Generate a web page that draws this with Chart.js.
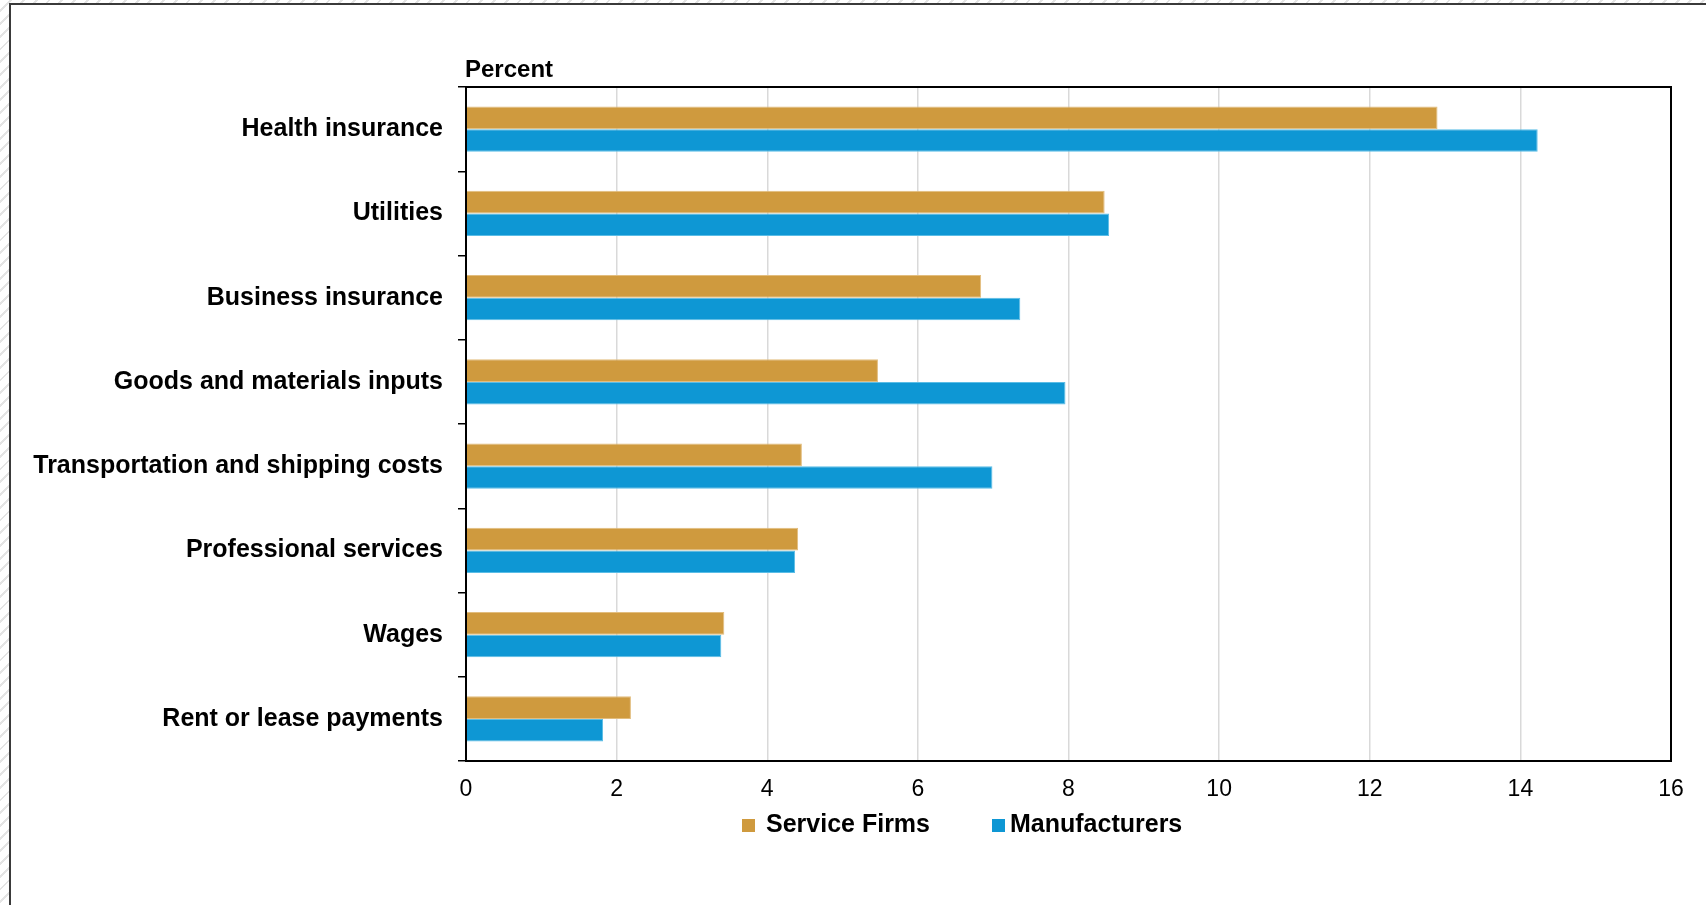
<!DOCTYPE html>
<html>
<head>
<meta charset="utf-8">
<script src="https://cdn.jsdelivr.net/npm/chart.js@4"></script>
<style>
    html, body {
        margin: 0;
        width: 1706px;
        height: 905px;
        overflow: hidden;
        font-family: "Liberation Sans", Arial, sans-serif;
        background: repeating-linear-gradient(135deg, #ffffff 0px, #ffffff 7px, #e4e4e4 7px, #e4e4e4 9px);
    }

    #frame {
        position: absolute;
        left: 9px;
        top: 3px;
        width: 1800px;
        height: 1000px;
        background: #fff;
        border-left: 2px solid #3a3a3a;
        border-top: 2px solid #3a3a3a;
    }

    #chartBox {
        position: absolute;
        left: 0;
        top: 0;
        width: 1706px;
        height: 905px;
    }

    .legendBox {
        position: absolute;
        width: 13px;
        height: 13px;
        top: 819px;
    }

    .legendText {
        position: absolute;
        top: 811px;
        font-size: 25px;
        line-height: 1;
        font-weight: bold;
        color: #000;
        white-space: nowrap;
    }
</style>
</head>
<body>
<div id="frame"></div>
<div id="chartBox"><canvas id="costChart" width="1706" height="905"></canvas></div>
<div id="legend"></div>

<script>
let categories = ['Health insurance', 'Utilities', 'Business insurance', 'Goods and materials inputs',
    'Transportation and shipping costs', 'Professional services', 'Wages', 'Rent or lease payments'];
let serviceFirms = [12.90, 8.48, 6.84, 5.47, 4.46, 4.41, 3.43, 2.19];
let manufacturers = [14.23, 8.54, 7.36, 7.96, 6.99, 4.37, 3.39, 1.82];
let seriesNames = ['Service Firms', 'Manufacturers'];
let seriesColors = ['#CF9A3E', '#0E97D4'];
let edgeColors = ['#E2BD7E', '#5BBDE6'];
let xTicks = [0, 2, 4, 6, 8, 10, 12, 14, 16];
let axisTitle = 'Percent';

// legend item positions (box left, text left)
let legendPos = [[742, 766], [992, 1010]];


let frameBorder = {
    id: 'frameBorder',
    afterDatasetsDraw(chart) {
        let a = chart.chartArea;
        let ctx = chart.ctx;
        ctx.save();
        ctx.strokeStyle = '#000';
        ctx.lineWidth = 2;
        ctx.strokeRect(a.left, a.top, a.right - a.left, a.bottom - a.top);
        ctx.fillStyle = '#000';
        ctx.font = 'bold 24px "Liberation Sans", Arial, sans-serif';
        ctx.textAlign = 'left';
        ctx.textBaseline = 'alphabetic';
        ctx.fillText(axisTitle, a.left - 1, a.top - 10);
        ctx.restore();
    }
};


function creatChart() {
    new Chart('costChart', {
        type: 'bar',
        data: {
            labels: categories,
            datasets: [{
                label: seriesNames[0],
                data: serviceFirms,
                backgroundColor: seriesColors[0],
                borderColor: edgeColors[0],
                borderWidth: 1,
                barPercentage: 1,
                categoryPercentage: 0.535
            }, {
                label: seriesNames[1],
                data: manufacturers,
                backgroundColor: seriesColors[1],
                borderColor: edgeColors[1],
                borderWidth: 1,
                barPercentage: 1,
                categoryPercentage: 0.535
            }]
        },
        options: {
            indexAxis: 'y',
            responsive: false,
            animation: false,
            layout: {
                padding: { left: 0, right: 35, top: 87, bottom: 99 }
            },
            plugins: {
                legend: { display: false },
                tooltip: { enabled: false }
            },
            scales: {
                x: {
                    min: 0,
                    max: 16,
                    afterBuildTicks: (scale) => {
                        scale.ticks = xTicks.map(v => ({ value: v }));
                    },
                    afterFit: (scale) => {
                        scale.height = 45;
                    },
                    grid: {
                        color: '#d9d9d9',
                        lineWidth: 1.5,
                        drawTicks: false
                    },
                    border: { color: '#000', width: 2 },
                    ticks: {
                        color: '#000',
                        padding: 15,
                        font: { family: '"Liberation Sans", Arial, sans-serif', size: 23 }
                    }
                },
                y: {
                    afterFit: (scale) => {
                        scale.width = 466;
                    },
                    grid: {
                        drawOnChartArea: false,
                        color: '#000',
                        lineWidth: 1.5,
                        tickLength: 8
                    },
                    border: { color: '#000', width: 2 },
                    ticks: {
                        color: '#000',
                        padding: 15,
                        font: { family: '"Liberation Sans", Arial, sans-serif', size: 25, weight: 'bold' }
                    }
                }
            }
        },
        plugins: [frameBorder]
    });
}


function renderLegend() {
    let legend = document.getElementById('legend');

    for (let i = 0; i < seriesNames.length; i++) {
        legend.innerHTML += `
            <div class="legendBox" style="left:${legendPos[i][0]}px; background:${seriesColors[i]}"></div>
            <div class="legendText" style="left:${legendPos[i][1]}px">${seriesNames[i]}</div>`;
    }
}


creatChart();
renderLegend();
</script>
</body>
</html>
